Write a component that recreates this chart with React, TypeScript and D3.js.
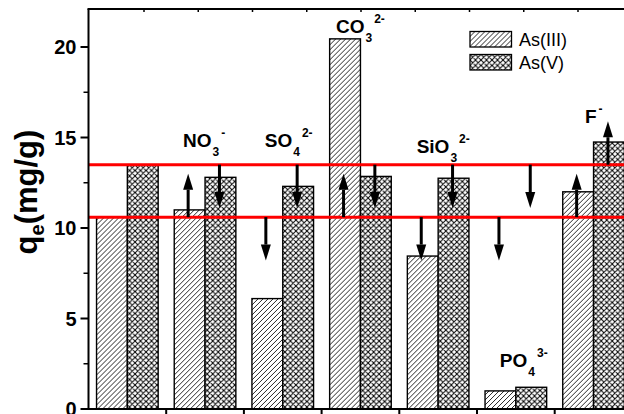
import React from "react";
import * as d3 from "d3";

// Adsorption capacity of As(III) / As(V) with different co-existing anions
const categories = ["Control", "NO3-", "SO4 2-", "CO3 2-", "SiO3 2-", "PO4 3-", "F-"];
const ionBase = ["", "NO", "SO", "CO", "SiO", "PO", "F"];
const ionSub = ["", "3", "4", "3", "3", "4", ""];
const ionCharge = ["", "-", "2-", "2-", "2-", "3-", "-"];
const seriesNames = ["As(III)", "As(V)"];
const asIII = [10.6, 11.0, 6.1, 20.45, 8.45, 1.0, 12.0];
const asV = [13.5, 12.8, 12.3, 12.85, 12.75, 1.2, 14.75];
// change relative to the control for each anion: up / down / none
const trendIII = ["", "up", "down", "up", "down", "down", "up"];
const trendV = ["", "down", "down", "down", "down", "down", "up"];
const yTicks = [0, 5, 10, 15, 20];
const yMinorTicks = [2.5, 7.5, 12.5, 17.5];

// annotation placement (x offset from group centre in px, y in data units)
const labelPlacement: [number, number][] = [
  [0, 0],
  [-22, 14.5],
  [-18, 14.5],
  [-24.5, 20.8],
  [-21.5, 14.15],
  [-16, 2.3],
  [-8.6, 15.8],
];

const W = 624;
const H = 414;
const left = 88.5;
const top = 9;
const bottom = 409;
const step = 77.7;
const topTickStep = 54.25;
const FONT = "'Liberation Sans', Arial, Helvetica, sans-serif";

export default function App() {
  const y = d3.scaleLinear().domain([0, 22.1]).range([bottom, top]);
  const x = d3
    .scaleBand<string>()
    .domain(categories)
    .range([left, left + step * categories.length])
    .paddingInner(0.207)
    .paddingOuter(0.1035);
  const xs = d3.scaleBand<string>().domain(seriesNames).range([0, x.bandwidth()]);
  const right = left + step * categories.length;

  const base3 = asIII[0];
  const base5 = asV[0];
  const arrowLen = 2.4;

  const arrow = (cx: number, from: number, dir: string, key: string) => {
    if (!dir) return null;
    const to = dir === "up" ? from + arrowLen : from - arrowLen;
    const y0 = y(from);
    const y1 = y(to);
    const headLen = 16;
    const headW = 5;
    const sgn = dir === "up" ? 1 : -1;
    const shaftEnd = y1 + sgn * headLen;
    return (
      <g key={key}>
        <line x1={cx} x2={cx} y1={y0} y2={shaftEnd} stroke="#000" strokeWidth={3} />
        <path
          d={`M${cx},${y1} L${cx - headW},${shaftEnd} L${cx + headW},${shaftEnd} Z`}
          fill="#000"
        />
      </g>
    );
  };

  const seriesData = [asIII, asV];
  const seriesFill = ["url(#hatchDiag)", "url(#hatchCross)"];

  const topTicks = d3.range(144, right, topTickStep);

  return (
    <svg
      width={W}
      height={H}
      style={{ position: "absolute", left: 0, top: 0, background: "#fff" }}
      fontFamily={FONT}
    >
      <defs>
        <pattern id="hatchDiag" patternUnits="userSpaceOnUse" width={5} height={5}>
          <rect width={5} height={5} fill="#fff" />
          <path d="M0,5 L5,0 M-1,1 L1,-1 M4,6 L6,4" stroke="#000" strokeWidth={0.85} />
        </pattern>
        <pattern id="hatchCross" patternUnits="userSpaceOnUse" width={5.5} height={5.5}>
          <rect width={5.5} height={5.5} fill="#fff" />
          <path
            d="M0,5.5 L5.5,0 M-1,1 L1,-1 M4.5,6.5 L6.5,4.5 M0,0 L5.5,5.5 M-1,4.5 L1,6.5 M4.5,-1 L6.5,1"
            stroke="#000"
            strokeWidth={1}
          />
        </pattern>
      </defs>

      <rect width={W} height={H} fill="#fff" />

      {/* bars */}
      {categories.map((c, i) => (
        <g key={c} transform={`translate(${x(c)},0)`}>
          {seriesNames.map((s, j) => {
            const v = seriesData[j][i];
            return (
              <rect
                key={s}
                x={xs(s)}
                y={y(v)}
                width={xs.bandwidth()}
                height={y(0) - y(v)}
                fill={seriesFill[j]}
                stroke="#000"
                strokeWidth={1.4}
              />
            );
          })}
        </g>
      ))}

      {/* reference levels of the control */}
      {[base3, base5].map((v) => (
        <line
          key={v}
          x1={left}
          x2={right}
          y1={y(v)}
          y2={y(v)}
          stroke="#ff0000"
          strokeWidth={3}
        />
      ))}

      {/* trend arrows */}
      {categories.map((c, i) => {
        const gx = x(c)!;
        const c3 = gx + xs("As(III)")! + xs.bandwidth() / 2 - 1.5;
        const c5 = gx + xs("As(V)")! + xs.bandwidth() / 2 - 1;
        return (
          <g key={`arr-${c}`}>
            {arrow(c3, base3, trendIII[i], `a3-${c}`)}
            {arrow(c5, base5, trendV[i], `a5-${c}`)}
          </g>
        );
      })}

      {/* anion labels */}
      {categories.map((c, i) => {
        if (!ionBase[i]) return null;
        const gc = x(c)! + x.bandwidth() / 2;
        const [dx, yv] = labelPlacement[i];
        return (
          <text
            key={`lab-${c}`}
            x={gc + dx}
            y={y(yv)}
            fontSize={19}
            fontWeight="bold"
            fill="#000"
          >
            {ionBase[i]}
            {ionSub[i] && (
              <tspan fontSize={12} dy={9} dx={1}>
                {ionSub[i]}
              </tspan>
            )}
            <tspan fontSize={12} dy={ionSub[i] ? -19 : -10} dx={2}>
              {ionCharge[i]}
            </tspan>
          </text>
        );
      })}

      {/* axes frame */}
      <line x1={left} x2={left} y1={top} y2={bottom} stroke="#000" strokeWidth={2} />
      <line x1={left - 1} x2={right} y1={bottom} y2={bottom} stroke="#000" strokeWidth={2} />
      <line x1={left - 1} x2={right} y1={top} y2={top} stroke="#000" strokeWidth={2} />

      {/* y ticks */}
      {yTicks.map((t) => (
        <g key={`yt-${t}`}>
          <line x1={left - 8} x2={left} y1={y(t)} y2={y(t)} stroke="#000" strokeWidth={2} />
          <text
            x={left - 12}
            y={y(t)}
            dy="0.36em"
            textAnchor="end"
            fontSize={20}
            fontWeight="bold"
          >
            {t}
          </text>
        </g>
      ))}
      {yMinorTicks.map((t) => (
        <line key={`ym-${t}`} x1={left - 5} x2={left} y1={y(t)} y2={y(t)} stroke="#000" strokeWidth={1.5} />
      ))}

      {/* x ticks at category boundaries */}
      {categories.map((c, i) => (
        <line
          key={`xt-${c}`}
          x1={left + step * (i + 1)}
          x2={left + step * (i + 1)}
          y1={bottom}
          y2={bottom + 6}
          stroke="#000"
          strokeWidth={2}
        />
      ))}
      {topTicks.map((t) => (
        <line key={`xtt-${t}`} x1={t} x2={t} y1={top} y2={top + 3} stroke="#000" strokeWidth={1.5} />
      ))}

      {/* y axis title */}
      <text
        transform={`translate(37,192) rotate(-90)`}
        textAnchor="middle"
        fontSize={31}
        fontWeight="bold"
      >
        q
        <tspan fontSize={20} dy={7}>
          e
        </tspan>
        <tspan dy={-7}>(mg/g)</tspan>
      </text>

      {/* legend */}
      {seriesNames.map((s, j) => (
        <g key={`lg-${s}`} transform={`translate(470,${31.5 + j * 23})`}>
          <rect width={41.5} height={15.5} fill={seriesFill[j]} stroke="#000" strokeWidth={1.3} />
          <text x={49} y={14.5} fontSize={18}>
            {s}
          </text>
        </g>
      ))}
    </svg>
  );
}
